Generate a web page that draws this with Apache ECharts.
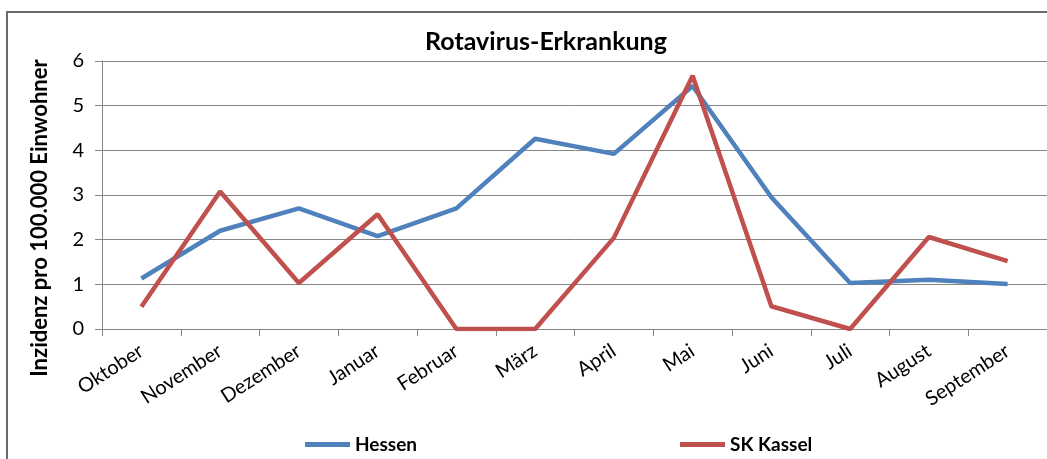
<!DOCTYPE html>
<html><head><meta charset="utf-8">
<script src="https://cdn.jsdelivr.net/npm/echarts@6/dist/echarts.min.js"></script>
<style>html,body{margin:0;padding:0;background:#fff}#c{width:1047px;height:459px}</style>
</head><body><div id="c"></div>
<script>
const categories = ['Oktober','November','Dezember','Januar','Februar','März','April','Mai','Juni','Juli','August','September'];
const hessen = [1.13, 2.2, 2.7, 2.08, 2.7, 4.26, 3.92, 5.44, 2.95, 1.03, 1.1, 1.01];
const kassel = [0.5, 3.08, 1.03, 2.57, 0, 0, 2.04, 5.67, 0.51, 0, 2.06, 1.52];
const yTicks = [0, 1, 2, 3, 4, 5, 6];
const FONT = 'Lato';
const chart = echarts.init(document.getElementById('c'));
chart.setOption({
  animation: false,
  backgroundColor: '#fff',
  textStyle: { fontFamily: FONT, color: '#000' },
  title: { text: 'Rotavirus-Erkrankung', left: 541, textAlign: 'center', top: 24,
    textStyle: { fontFamily: FONT, fontWeight: 'bold', fontSize: 25, color: '#000' } },
  graphic: [
    { type: 'rect', shape: { x: 7, y: 12, width: 1200, height: 600 }, style: { fill: 'none', stroke: '#6a6a6a', lineWidth: 2 }, silent: true },
    { type: 'text', x: 40, y: 218, rotation: Math.PI / 2,
      style: { text: 'Inzidenz pro 100.000 Einwohner', fontFamily: FONT, fontWeight: 'bold', fontSize: 22, fill: '#000', textAlign: 'center', textVerticalAlign: 'middle' } }
  ],
  legend: [
    { data: ['Hessen'], left: 300, top: 430, icon: 'rect', itemWidth: 45, itemHeight: 5, itemGap: 5,
      textStyle: { fontFamily: FONT, fontWeight: 'bold', fontSize: 19, color: '#000' } },
    { data: ['SK Kassel'], left: 675, top: 430, icon: 'rect', itemWidth: 45, itemHeight: 5, itemGap: 5,
      textStyle: { fontFamily: FONT, fontWeight: 'bold', fontSize: 19, color: '#000' } }
  ],
  grid: { left: 102, top: 61, width: 949, height: 268, containLabel: false },
  xAxis: {
    type: 'category', data: categories, boundaryGap: true,
    axisLine: { lineStyle: { color: '#868686', width: 1 } },
    axisTick: { show: true, length: 7, lineStyle: { color: '#868686' }, alignWithLabel: false },
    axisLabel: { rotate: 33, fontFamily: FONT, fontSize: 20, color: '#000', margin: 20, interval: 0 }
  },
  yAxis: {
    type: 'value', min: 0, max: 6, interval: 1,
    axisLine: { show: true, lineStyle: { color: '#868686', width: 1 } },
    axisTick: { show: true, length: 7, lineStyle: { color: '#868686' } },
    axisLabel: { fontFamily: FONT, fontSize: 20, color: '#000', margin: 18,
      formatter: v => yTicks.includes(v) ? String(v) : '' },
    splitLine: { lineStyle: { color: '#868686', width: 1 } }
  },
  series: [
    { name: 'Hessen', type: 'line', data: hessen, symbol: 'none', lineStyle: { color: '#4F81BD', width: 4.5 }, itemStyle: { color: '#4F81BD' } },
    { name: 'SK Kassel', type: 'line', data: kassel, symbol: 'none', lineStyle: { color: '#C0504D', width: 4.5 }, itemStyle: { color: '#C0504D' } }
  ]
});
</script></body></html>
